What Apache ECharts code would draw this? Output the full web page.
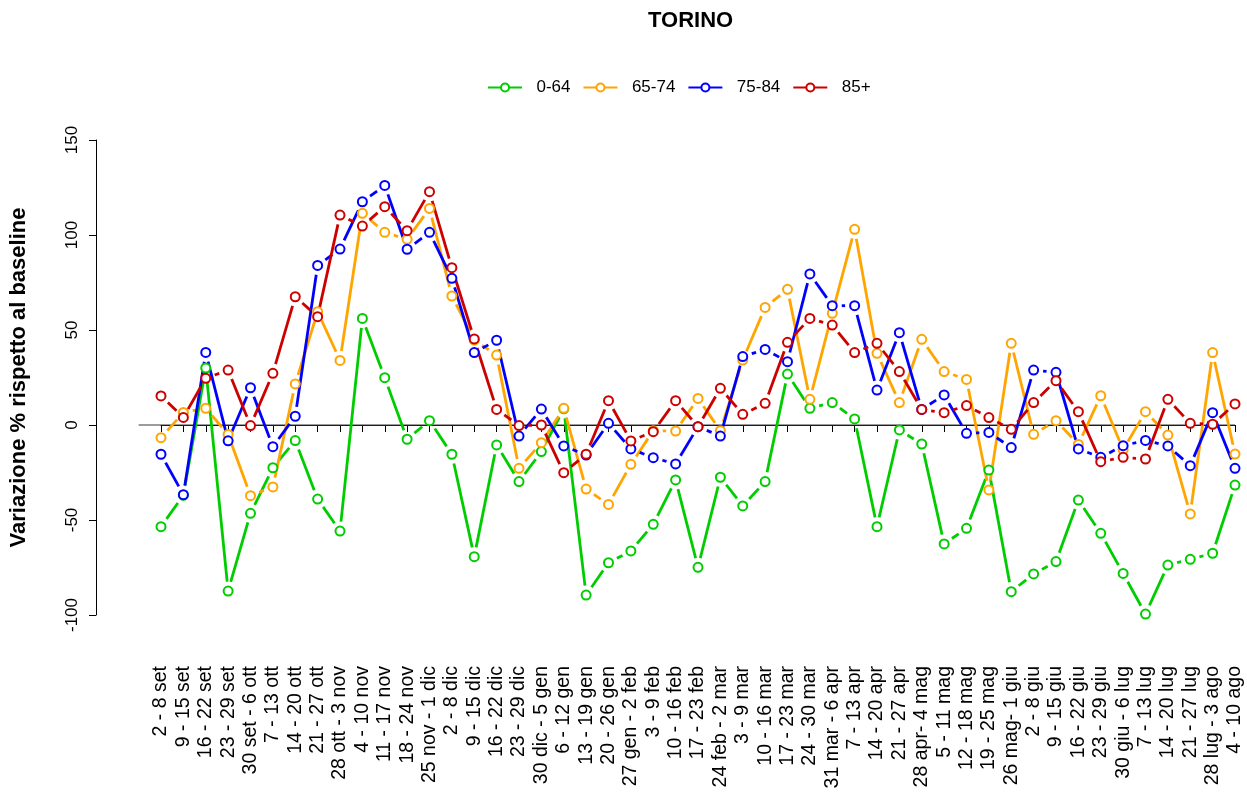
<!DOCTYPE html>
<html>
<head>
<meta charset="utf-8">
<title>TORINO</title>
<script src="https://cdn.jsdelivr.net/npm/echarts@6/dist/echarts.min.js"></script>
<style>
  html, body { margin: 0; padding: 0; background: #fff; }
  #chart { width: 1247px; height: 796px; }
</style>
</head>
<body>
<div id="chart"></div>
<script>
// Weekly periods (Sept to Aug)
const categories = [
  '2 - 8 set', '9 - 15 set', '16 - 22 set', '23 - 29 set', '30 set - 6 ott',
  '7 - 13 ott', '14 - 20 ott', '21 - 27 ott', '28 ott - 3 nov', '4 - 10 nov',
  '11 - 17 nov', '18 - 24 nov', '25 nov - 1 dic', '2 - 8 dic', '9 - 15 dic',
  '16 - 22 dic', '23 - 29 dic', '30 dic - 5 gen', '6 - 12 gen', '13 - 19 gen',
  '20 - 26 gen', '27 gen - 2 feb', '3 - 9 feb', '10 - 16 feb', '17 - 23 feb',
  '24 feb - 2 mar', '3 - 9 mar', '10 - 16 mar', '17 - 23 mar', '24 - 30 mar',
  '31 mar - 6 apr', '7 - 13 apr', '14 - 20 apr', '21 - 27 apr', '28 apr- 4 mag',
  '5 - 11 mag', '12 - 18 mag', '19 - 25 mag', '26 mag- 1 giu', '2 - 8 giu',
  '9 - 15 giu', '16 - 22 giu', '23 - 29 giu', '30 giu - 6 lug', '7 - 13 lug',
  '14 - 20 lug', '21 - 27 lug', '28 lug - 3 ago', '4 - 10 ago'
];

// % change vs baseline, by age group
const age0_64 = [
  -53.5, -37, 30, -87.4, -46.5, -22.5, -8.2, -39, -55.8, 56.1,
  24.9, -7.5, 2.3, -15.4, -69.3, -10.5, -29.8, -14, 8.5, -89.5,
  -72.5, -66.3, -52.3, -28.9, -74.9, -27.5, -42.6, -29.8, 26.8, 8.8,
  11.8, 3.2, -53.5, -2.6, -10, -62.6, -54.4, -23.7, -87.7, -78.4,
  -71.9, -39.5, -57, -78.1, -99.5, -73.7, -70.7, -67.5, -31.6
];
const age65_74 = [
  -6.7, 6.6, 8.8, -5, -37.2, -32.6, 21.6, 59.6, 34, 111.4,
  101.4, 97.7, 114, 67.9, 44.7, 36.8, -22.8, -9.3, 8.8, -33.7,
  -41.8, -20.7, -3, -3.2, 14, -3, 34.2, 61.9, 71.4, 13.5,
  58.8, 103, 37.7, 11.8, 45.1, 28.1, 24, -34.2, 43, -4.9,
  2.3, -10.2, 15.4, -13, 7, -5.3, -46.8, 38.1, -15.3
];
const age75_84 = [
  -15.4, -36.7, 38.2, -8.3, 19.6, -11.4, 4.6, 84, 92.6, 117.5,
  126.1, 92.5, 101.4, 77.2, 38.1, 44.6, -5.8, 8.4, -11, -15.8,
  0.9, -12.6, -17.2, -20.5, -0.9, -5.8, 36, 39.8, 33.3, 79.5,
  62.8, 62.8, 18.4, 48.6, 8.2, 15.8, -4.4, -3.9, -11.9, 28.9,
  27.7, -12.6, -17, -10.9, -8.1, -11, -21.4, 6.5, -22.8
];
const age85plus = [
  15.3, 4, 24.6, 28.9, -0.3, 27.2, 67.5, 57, 110.5, 104.7,
  114.9, 102.3, 122.8, 82.8, 45.3, 8.2, -0.3, 0, -25.1, -15.4,
  12.8, -8.4, -3.5, 12.8, -0.9, 19.3, 5.6, 11.4, 43.5, 56.1,
  52.6, 38.1, 43, 28.1, 8.2, 6.5, 10.2, 3.9, -2.3, 11.8,
  23.3, 7, -19.3, -17, -17.9, 13.5, 0.9, 0.4, 11.1
];

const yTicks = { min: -100, max: 150, step: 50 };

const groups = [
  { name: '0-64',  values: age0_64,   color: '#00CD00' },
  { name: '65-74', values: age65_74,  color: '#FFA500' },
  { name: '75-84', values: age75_84,  color: '#0000FF' },
  { name: '85+',   values: age85plus, color: '#CD0000' }
];

const FONT = '"Liberation Sans", Arial, Helvetica, sans-serif';
const GAP = 9.5;     // space left between a segment end and its point
const LINE_W = 2.8;

// Segments joining consecutive points, stopped short of each marker
function segmentSeries(g) {
  const data = g.values.slice(0, -1).map((v, i) => [i, v, g.values[i + 1]]);
  return {
    type: 'custom',
    id: 'seg-' + g.name,
    silent: true,
    animation: false,
    encode: { x: 0, y: [1, 2] },
    data: data,
    renderItem: function (params, api) {
      const i = api.value(0);
      const p0 = api.coord([i, api.value(1)]);
      const p1 = api.coord([i + 1, api.value(2)]);
      const dx = p1[0] - p0[0], dy = p1[1] - p0[1];
      const len = Math.sqrt(dx * dx + dy * dy);
      if (len <= 2 * GAP + 1) return null;
      const ux = dx / len, uy = dy / len;
      return {
        type: 'line',
        shape: {
          x1: p0[0] + ux * GAP, y1: p0[1] + uy * GAP,
          x2: p1[0] - ux * GAP, y2: p1[1] - uy * GAP
        },
        style: { stroke: g.color, lineWidth: LINE_W, lineCap: 'butt' }
      };
    }
  };
}

// Hollow circle markers for each week
function pointSeries(g) {
  return {
    type: 'line',
    name: g.name,
    data: g.values,
    symbol: 'emptyCircle',
    symbolSize: 9,
    showAllSymbol: true,
    animation: false,
    silent: true,
    lineStyle: { width: 0, opacity: 0 },
    itemStyle: { color: g.color, borderColor: g.color, borderWidth: 3 },
    emphasis: { disabled: true }
  };
}

// Horizontal reference line at zero
const zeroLine = {
  type: 'custom',
  id: 'zero',
  silent: true,
  animation: false,
  data: [[0, 0]],
  encode: { x: 0, y: 1 },
  renderItem: function (params, api) {
    const a = api.coord([0, 0]);
    const b = api.coord([1, 0]);
    const z = api.coord([categories.length - 1, 0]);
    const step = b[0] - a[0];
    return {
      type: 'line',
      shape: { x1: a[0] - step, y1: a[1], x2: z[0], y2: z[1] },
      style: { stroke: '#3a3a3a', lineWidth: 1.2 }
    };
  }
};

const series = [zeroLine];
groups.forEach(g => { series.push(segmentSeries(g)); series.push(pointSeries(g)); });

const chart = echarts.init(document.getElementById('chart'), null, { renderer: 'canvas' });
chart.setOption({
  backgroundColor: '#ffffff',
  animation: false,
  textStyle: { fontFamily: FONT },
  title: {
    text: 'TORINO',
    left: 643,
    top: 5,
    textStyle: { fontFamily: FONT, fontSize: 22, fontWeight: 'bold', color: '#000' }
  },
  legend: {
    data: groups.map(g => g.name),
    left: 482,
    top: 74,
    itemWidth: 34,
    itemHeight: 10,
    itemGap: 12,
    formatter: name => '  ' + name,
    textStyle: { fontFamily: FONT, fontSize: 17, color: '#000' },
    lineStyle: { width: 2, opacity: 1 },
    itemStyle: { borderWidth: 1.5 }
  },
  grid: { left: 160, right: 12, top: 140, bottom: 181, containLabel: false },
  xAxis: {
    type: 'category',
    data: categories,
    boundaryGap: false,
    offset: 42,
    axisLine: { show: true, lineStyle: { color: '#000', width: 1 } },
    axisTick: { show: true, length: 7, interval: 0, lineStyle: { color: '#000' } },
    axisLabel: { interval: 0, rotate: 90, margin: 9, fontSize: 19.5, color: '#000', fontFamily: FONT },
    splitLine: { show: false }
  },
  yAxis: {
    type: 'value',
    min: yTicks.min,
    max: yTicks.max,
    interval: yTicks.step,
    offset: 65,
    name: 'Variazione % rispetto al baseline',
    nameLocation: 'middle',
    nameGap: 66,
    nameRotate: 90,
    nameTextStyle: { fontFamily: FONT, fontSize: 22, fontWeight: 'bold', color: '#000' },
    axisLine: { show: true, lineStyle: { color: '#000', width: 1 } },
    axisTick: { show: true, length: 7, lineStyle: { color: '#000' } },
    axisLabel: { rotate: 90, margin: 15, fontSize: 17, color: '#000', fontFamily: FONT },
    splitLine: { show: false }
  },
  series: series
});
</script>
</body>
</html>
